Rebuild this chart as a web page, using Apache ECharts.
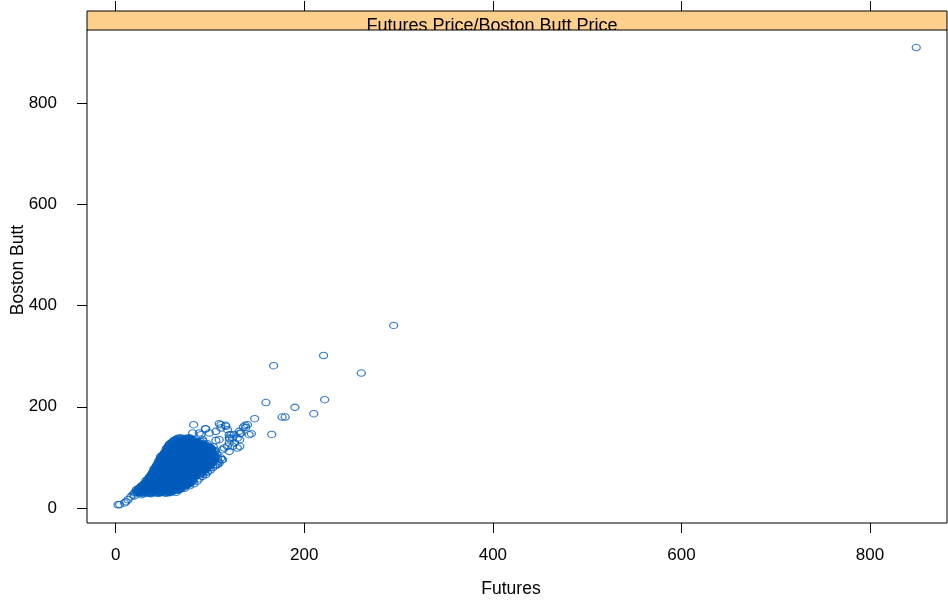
<!DOCTYPE html>
<html>
<head>
<meta charset="utf-8">
<title>Futures Price/Boston Butt Price</title>
<script src="https://cdn.jsdelivr.net/npm/echarts@6/dist/echarts.min.js"></script>
<style>
  html, body { margin: 0; padding: 0; background: #ffffff; }
  #chart { width: 948px; height: 600px; }
</style>
</head>
<body>
<div id="chart"></div>
<script>
// Futures price (x) against Boston Butt price (y), one open circle per observation.

// Low-price tail of the cloud
const tailPoints = [
  [2.5, 6.5], [4.2, 7], [9.5, 10], [11, 12.5], [13, 16.4], [16, 22], [18.3, 26.3], [20, 24],
  [21.9, 36.2], [24, 31], [27.1, 26.3], [30, 28], [35.9, 29.6], [37.7, 28], [46.5, 29.6],
  [48.3, 31], [57, 32.8], [58.8, 30.8], [27.1, 42.7], [32.4, 49.4]
];

// Dense core of the cloud, lower half
const coreLower = [
  [20,30],[23,31],[26,29],[29,30],[32,31],[35,29],[38,30],[41,31],[44,29],[47,30],[50,31],[53,29],[56,30],
  [23,34],[26,35],[29,33],[32,34],[35,35],[38,33],[41,34],[44,35],[47,33],[50,34],[53,35],[56,33],[59,34],[62,35],
  [24,38],[27,39],[30,37],[33,38],[36,39],[39,37],[42,38],[45,39],[48,37],[51,38],[54,39],[57,37],[60,38],[63,39],[66,37],[68,38],
  [27,42],[30,43],[33,41],[36,42],[39,43],[42,41],[45,42],[48,43],[51,41],[54,42],[57,43],[60,41],[63,42],[66,43],[69,41],[72,42],
  [29,46],[32,47],[35,45],[38,46],[41,47],[44,45],[47,46],[50,47],[53,45],[56,46],[59,47],[62,45],[65,46],[68,47],[71,45],[74,46],[77,47],
  [32,50],[35,51],[38,49],[41,50],[44,51],[47,49],[50,50],[53,51],[56,49],[59,50],[62,51],[65,49],[68,50],[71,51],[74,49],[77,50],[80,51],
  [32,54],[35,55],[38,53],[41,54],[44,55],[47,53],[50,54],[53,55],[56,53],[59,54],[62,55],[65,53],[68,54],[71,55],[74,53],[77,54],[80,55],[82,53],
  [35,58],[38,59],[41,57],[44,58],[47,59],[50,57],[53,58],[56,59],[59,57],[62,58],[65,59],[68,57],[71,58],[74,59],[77,57],[80,58],[83,59],
  [36,62],[39,63],[42,61],[45,62],[48,63],[51,61],[54,62],[57,63],[60,61],[63,62],[66,63],[69,61],[72,62],[75,63],[78,61],[81,62],[84,63],
  [38,66],[41,67],[44,65],[47,66],[50,67],[53,65],[56,66],[59,67],[62,65],[65,66],[68,67],[71,65],[74,66],[77,67],[80,65],[83,66],[86,67],[89,65],
  [39,70],[42,71],[45,69],[48,70],[51,71],[54,69],[57,70],[60,71],[63,69],[66,70],[69,71],[72,69],[75,70],[78,71],[81,69],[84,70],[87,71],[90,69],[92,70],
  [41,74],[44,75],[47,73],[50,74],[53,75],[56,73],[59,74],[62,75],[65,73],[68,74],[71,75],[74,73],[77,74],[80,75],[83,73],[86,74],[89,75],[92,73],[94,74],
  [41,78],[44,79],[47,77],[50,78],[53,79],[56,77],[59,78],[62,79],[65,77],[68,78],[71,79],[74,77],[77,78],[80,79],[83,77],[86,78],[89,79],[92,77],[95,78],[97,79],
  [43,82],[46,83],[49,81],[52,82],[55,83],[58,81],[61,82],[64,83],[67,81],[70,82],[73,83],[76,81],[79,82],[82,83],[85,81],[88,82],[91,83],[94,81],[97,82],[99,83]
];

// Dense core of the cloud, upper half
const coreUpper = [
  [44,86],[47,87],[50,85],[53,86],[56,87],[59,85],[62,86],[65,87],[68,85],[71,86],[74,87],[77,85],[80,86],[83,87],[86,85],[89,86],[92,87],[95,85],[98,86],[101,87],
  [46,90],[49,91],[52,89],[55,90],[58,91],[61,89],[64,90],[67,91],[70,89],[73,90],[76,91],[79,89],[82,90],[85,91],[88,89],[91,90],[94,91],[97,89],[100,90],[103,91],
  [46,94],[49,95],[52,93],[55,94],[58,95],[61,93],[64,94],[67,95],[70,93],[73,94],[76,95],[79,93],[82,94],[85,95],[88,93],[91,94],[94,95],[97,93],[100,94],[103,95],[105,93],
  [48,98],[51,99],[54,97],[57,98],[60,99],[63,97],[66,98],[69,99],[72,97],[75,98],[78,99],[81,97],[84,98],[87,99],[90,97],[93,98],[96,99],[99,97],[102,98],[105,99],
  [48,102],[51,103],[54,101],[57,102],[60,103],[63,101],[66,102],[69,103],[72,101],[75,102],[78,103],[81,101],[84,102],[87,103],[90,101],[93,102],[96,103],[99,101],[102,102],[105,103],
  [51,106],[54,107],[57,105],[60,106],[63,107],[66,105],[69,106],[72,107],[75,105],[78,106],[81,107],[84,105],[87,106],[90,107],[93,105],[96,106],[99,107],[102,105],[105,106],
  [52,110],[55,111],[58,109],[61,110],[64,111],[67,109],[70,110],[73,111],[76,109],[79,110],[82,111],[85,109],[88,110],[91,111],[94,109],[97,110],[100,111],[103,109],
  [54,114],[57,115],[60,113],[63,114],[66,115],[69,113],[72,114],[75,115],[78,113],[81,114],[84,115],[87,113],[90,114],[93,115],[96,113],[99,114],[102,115],
  [54,118],[57,119],[60,117],[63,118],[66,119],[69,117],[72,118],[75,119],[78,117],[81,118],[84,119],[87,117],[90,118],[93,119],[96,117],[99,118],[101,119],
  [56,122],[59,123],[62,121],[65,122],[68,123],[71,121],[74,122],[77,123],[80,121],[83,122],[86,123],[89,121],[92,122],[95,123],[98,121],
  [57,126],[60,127],[63,125],[66,126],[69,127],[72,125],[75,126],[78,127],[81,125],[84,126],[87,127],[90,125],[93,126],
  [60,130],[63,131],[66,129],[69,130],[72,131],[75,129],[78,130],[81,131],[84,129],[87,130],[90,131],
  [62,134],[65,135],[68,133],[71,134],[74,135],[77,133],[80,134],[83,135],
  [66,138],[69,139],[72,137],[75,138],[78,139],[80,137]
];

// Observations lying between the core rows, lower half
const coreMidLower = [
  [21.5,32],[24.5,33],[27.5,31],[30.5,32],[33.5,33],[36.5,31],[39.5,32],[42.5,33],[45.5,31],[48.5,32],[51.5,33],[54.5,31],[57.5,32],[60,33],
  [24.5,36],[27.5,37],[30.5,35],[33.5,36],[36.5,37],[39.5,35],[42.5,36],[45.5,37],[48.5,35],[51.5,36],[54.5,37],[57.5,35],[60.5,36],[63.5,37],[66,35],
  [25.5,40],[28.5,41],[31.5,39],[34.5,40],[37.5,41],[40.5,39],[43.5,40],[46.5,41],[49.5,39],[52.5,40],[55.5,41],[58.5,39],[61.5,40],[64.5,41],[67.5,39],[70.5,40],
  [28.5,44],[31.5,45],[34.5,43],[37.5,44],[40.5,45],[43.5,43],[46.5,44],[49.5,45],[52.5,43],[55.5,44],[58.5,45],[61.5,43],[64.5,44],[67.5,45],[70.5,43],[73.5,44],[75.5,45],
  [30.5,48],[33.5,49],[36.5,47],[39.5,48],[42.5,49],[45.5,47],[48.5,48],[51.5,49],[54.5,47],[57.5,48],[60.5,49],[63.5,47],[66.5,48],[69.5,49],[72.5,47],[75.5,48],[78.5,49],
  [33.5,52],[36.5,53],[39.5,51],[42.5,52],[45.5,53],[48.5,51],[51.5,52],[54.5,53],[57.5,51],[60.5,52],[63.5,53],[66.5,51],[69.5,52],[72.5,53],[75.5,51],[78.5,52],[81,53],
  [33.5,56],[36.5,57],[39.5,55],[42.5,56],[45.5,57],[48.5,55],[51.5,56],[54.5,57],[57.5,55],[60.5,56],[63.5,57],[66.5,55],[69.5,56],[72.5,57],[75.5,55],[78.5,56],[81.5,57],
  [35.5,60],[38.5,61],[41.5,59],[44.5,60],[47.5,61],[50.5,59],[53.5,60],[56.5,61],[59.5,59],[62.5,60],[65.5,61],[68.5,59],[71.5,60],[74.5,61],[77.5,59],[80.5,60],[83.5,61],
  [37.5,64],[40.5,65],[43.5,63],[46.5,64],[49.5,65],[52.5,63],[55.5,64],[58.5,65],[61.5,63],[64.5,64],[67.5,65],[70.5,63],[73.5,64],[76.5,65],[79.5,63],[82.5,64],[85.5,65],
  [38.5,68],[41.5,69],[44.5,67],[47.5,68],[50.5,69],[53.5,67],[56.5,68],[59.5,69],[62.5,67],[65.5,68],[68.5,69],[71.5,67],[74.5,68],[77.5,69],[80.5,67],[83.5,68],[86.5,69],[89.5,67],
  [40.5,72],[43.5,73],[46.5,71],[49.5,72],[52.5,73],[55.5,71],[58.5,72],[61.5,73],[64.5,71],[67.5,72],[70.5,73],[73.5,71],[76.5,72],[79.5,73],[82.5,71],[85.5,72],[88.5,73],[91.5,71],
  [40.5,76],[43.5,77],[46.5,75],[49.5,76],[52.5,77],[55.5,75],[58.5,76],[61.5,77],[64.5,75],[67.5,76],[70.5,77],[73.5,75],[76.5,76],[79.5,77],[82.5,75],[85.5,76],[88.5,77],[91.5,75],[94.5,76],
  [42.5,80],[45.5,81],[48.5,79],[51.5,80],[54.5,81],[57.5,79],[60.5,80],[63.5,81],[66.5,79],[69.5,80],[72.5,81],[75.5,79],[78.5,80],[81.5,81],[84.5,79],[87.5,80],[90.5,81],[93.5,79],[96.5,80]
];

// Observations lying between the core rows, upper half
const coreMidUpper = [
  [43.5,84],[46.5,85],[49.5,83],[52.5,84],[55.5,85],[58.5,83],[61.5,84],[64.5,85],[67.5,83],[70.5,84],[73.5,85],[76.5,83],[79.5,84],[82.5,85],[85.5,83],[88.5,84],[91.5,85],[94.5,83],[97.5,84],[100,85],
  [45.5,88],[48.5,89],[51.5,87],[54.5,88],[57.5,89],[60.5,87],[63.5,88],[66.5,89],[69.5,87],[72.5,88],[75.5,89],[78.5,87],[81.5,88],[84.5,89],[87.5,87],[90.5,88],[93.5,89],[96.5,87],[99.5,88],[102,89],
  [45.5,92],[48.5,93],[51.5,91],[54.5,92],[57.5,93],[60.5,91],[63.5,92],[66.5,93],[69.5,91],[72.5,92],[75.5,93],[78.5,91],[81.5,92],[84.5,93],[87.5,91],[90.5,92],[93.5,93],[96.5,91],[99.5,92],[102.5,93],
  [47.5,96],[50.5,97],[53.5,95],[56.5,96],[59.5,97],[62.5,95],[65.5,96],[68.5,97],[71.5,95],[74.5,96],[77.5,97],[80.5,95],[83.5,96],[86.5,97],[89.5,95],[92.5,96],[95.5,97],[98.5,95],[101.5,96],[104.5,97],
  [47.5,100],[50.5,101],[53.5,99],[56.5,100],[59.5,101],[62.5,99],[65.5,100],[68.5,101],[71.5,99],[74.5,100],[77.5,101],[80.5,99],[83.5,100],[86.5,101],[89.5,99],[92.5,100],[95.5,101],[98.5,99],[101.5,100],[104.5,101],
  [49.5,104],[52.5,105],[55.5,103],[58.5,104],[61.5,105],[64.5,103],[67.5,104],[70.5,105],[73.5,103],[76.5,104],[79.5,105],[82.5,103],[85.5,104],[88.5,105],[91.5,103],[94.5,104],[97.5,105],[100.5,103],[103.5,104],
  [51.5,108],[54.5,109],[57.5,107],[60.5,108],[63.5,109],[66.5,107],[69.5,108],[72.5,109],[75.5,107],[78.5,108],[81.5,109],[84.5,107],[87.5,108],[90.5,109],[93.5,107],[96.5,108],[99.5,109],[102.5,107],
  [53.5,112],[56.5,113],[59.5,111],[62.5,112],[65.5,113],[68.5,111],[71.5,112],[74.5,113],[77.5,111],[80.5,112],[83.5,113],[86.5,111],[89.5,112],[92.5,113],[95.5,111],[98.5,112],[101.5,113],
  [53.5,116],[56.5,117],[59.5,115],[62.5,116],[65.5,117],[68.5,115],[71.5,116],[74.5,117],[77.5,115],[80.5,116],[83.5,117],[86.5,115],[89.5,116],[92.5,117],[95.5,115],[98.5,116],[101.5,117],
  [55.5,120],[58.5,121],[61.5,119],[64.5,120],[67.5,121],[70.5,119],[73.5,120],[76.5,121],[79.5,119],[82.5,120],[85.5,121],[88.5,119],[91.5,120],[94.5,121],[97.5,119],[100,120],
  [56.5,124],[59.5,125],[62.5,123],[65.5,124],[68.5,125],[71.5,123],[74.5,124],[77.5,125],[80.5,123],[83.5,124],[86.5,125],[89.5,123],[92.5,124],[95.5,125],
  [58.5,128],[61.5,129],[64.5,127],[67.5,128],[70.5,129],[73.5,127],[76.5,128],[79.5,129],[82.5,127],[85.5,128],[88.5,129],[91.5,127],
  [61.5,132],[64.5,133],[67.5,131],[70.5,132],[73.5,133],[76.5,131],[79.5,132],[82.5,133],[85.5,131],
  [64.5,136],[67.5,137],[70.5,135],[73.5,136],[76.5,137],[79.5,135]
];

// Loose points around the edge of the core
const fringePoints = [
  [82.7, 164.6], [95.2, 156.7], [81.6, 148.2], [109.8, 166.6], [111.6, 164.6], [116.4, 163.3],
  [111.6, 158], [120.4, 144.9], [120.4, 138.3], [131.7, 146.8], [135.5, 160], [139.8, 164.6],
  [137.3, 163.3], [138, 159.3], [99.3, 148.2], [90.5, 144.9], [71.1, 135], [78.1, 135],
  [106.3, 133.6], [126.1, 128.5], [131.5, 135], [141.5, 144.9], [143.9, 146.8], [118.6, 121.8],
  [113.3, 115.2], [129.1, 118.6], [120.4, 111.9], [111.5, 98.8], [109.8, 88.9], [99.3, 79],
  [94, 69.2], [131.7, 121.8], [124, 121.8], [129, 138], [123.9, 138], [120.4, 128.5],
  [113.3, 95.5], [108, 85.6], [105.3, 83.6], [88.7, 72.3], [125.7, 144.9], [131, 151.4],
  [118.6, 154.7], [106.3, 151.4], [88.7, 148.2], [92.2, 135], [109.8, 135], [115.1, 118.6],
  [122.2, 144.9], [121.1, 136.4], [95.4, 156.1], [116.9, 161.3], [104.5, 111.9], [112.6, 95.5],
  [132.7, 148.2], [64, 31], [67.5, 36], [73, 39], [78.5, 44], [83, 48], [86.5, 53], [88.5, 58],
  [92, 62.5], [95.5, 66], [97.5, 71], [100.5, 75], [103, 80], [106.5, 86], [108.5, 92],
  [108, 99], [107.5, 106], [106, 113], [103.5, 121], [97, 127], [92.5, 132]
];

// Isolated high-price observations
const outlierPoints = [
  [849, 909.5], [294.8, 360.7], [167.5, 281.2], [220.5, 301.2], [260.5, 266.5], [221.6, 214],
  [159.3, 208.3], [190.1, 198.8], [210.1, 186.4], [176.5, 179.6], [179.8, 179.6], [147.4, 176.5],
  [165.5, 145.3]
];

const xTicks = [0, 200, 400, 600, 800];
const yTicks = [0, 200, 400, 600, 800];
const xRange = [-30.4, 881.6];
const yRange = [-29.6, 944.2];

const stripTitle = 'Futures Price/Boston Butt Price';
const xTitle = 'Futures';
const yTitle = 'Boston Butt';

const allPoints = tailPoints.concat(coreLower, coreUpper, coreMidLower, coreMidUpper, fringePoints, outlierPoints);

const FONT = '"Liberation Sans", Arial, Helvetica, sans-serif';
const POINT_COLOR = '#005cbb';
const STRIP_FILL = '#ffd08c';

const gridBox = { left: 87, top: 30, width: 860, height: 493 };
const stripHeight = 19;

const chart = echarts.init(document.getElementById('chart'), null, { renderer: 'canvas' });

const tickStyle = { color: '#000000', width: 1 };

chart.setOption({
  animation: false,
  backgroundColor: '#ffffff',
  grid: {
    left: gridBox.left, top: gridBox.top, width: gridBox.width, height: gridBox.height,
    show: true, borderColor: '#000000', borderWidth: 1, backgroundColor: 'transparent'
  },
  xAxis: [
    {
      type: 'value', min: xRange[0], max: xRange[1], position: 'bottom',
      splitLine: { show: false }, axisLine: { show: false, onZero: false },
      axisTick: { show: true, inside: false, length: 10, customValues: xTicks, lineStyle: tickStyle },
      axisLabel: { show: true, customValues: xTicks, margin: 24, color: '#000000',
                   fontSize: 17, fontFamily: FONT }
    },
    {
      // tick marks above the strip
      type: 'value', min: xRange[0], max: xRange[1], position: 'top', offset: stripHeight,
      splitLine: { show: false }, axisLine: { show: false, onZero: false },
      axisTick: { show: true, inside: false, length: 10, customValues: xTicks, lineStyle: tickStyle },
      axisLabel: { show: false }
    }
  ],
  yAxis: [
    {
      type: 'value', min: yRange[0], max: yRange[1], position: 'left',
      splitLine: { show: false }, axisLine: { show: false, onZero: false },
      axisTick: { show: true, inside: false, length: 10, customValues: yTicks, lineStyle: tickStyle },
      axisLabel: { show: true, customValues: yTicks, margin: 30, color: '#000000',
                   fontSize: 17, fontFamily: FONT }
    }
  ],
  series: [
    {
      type: 'scatter',
      xAxisIndex: 0, yAxisIndex: 0,
      data: allPoints,
      symbol: 'circle',
      symbolSize: [8, 6.5],
      large: false,
      progressive: 0,
      itemStyle: { color: 'rgba(0,0,0,0)', borderColor: POINT_COLOR, borderWidth: 1.15 },
      emphasis: { disabled: true },
      silent: true,
      z: 3
    }
  ],
  graphic: [
    {
      type: 'rect', z: 10,
      shape: { x: gridBox.left, y: gridBox.top - stripHeight, width: gridBox.width, height: stripHeight },
      style: { fill: STRIP_FILL, stroke: null }
    },
    {
      type: 'text', z: 11,
      x: 492, y: 26.5,
      style: { text: stripTitle, fill: '#000000', font: '18px ' + FONT,
               textAlign: 'center', textVerticalAlign: 'middle' }
    },
    {
      // white band hides the part of the strip label that runs below the strip
      type: 'rect', z: 11.5,
      shape: { x: gridBox.left + 1, y: gridBox.top, width: gridBox.width - 2, height: 8 },
      style: { fill: '#ffffff', stroke: null }
    },
    {
      type: 'rect', z: 12,
      shape: { x: gridBox.left, y: gridBox.top - stripHeight, width: gridBox.width, height: stripHeight },
      style: { fill: null, stroke: '#000000', lineWidth: 1 }
    },
    {
      type: 'text', z: 11,
      x: 511, y: 589,
      style: { text: xTitle, fill: '#000000', font: '17.5px ' + FONT,
               textAlign: 'center', textVerticalAlign: 'middle' }
    },
    {
      type: 'text', z: 11,
      x: 18, y: 270, rotation: Math.PI / 2,
      style: { text: yTitle, fill: '#000000', font: '17.5px ' + FONT,
               textAlign: 'center', textVerticalAlign: 'middle' }
    }
  ]
});
</script>
</body>
</html>
